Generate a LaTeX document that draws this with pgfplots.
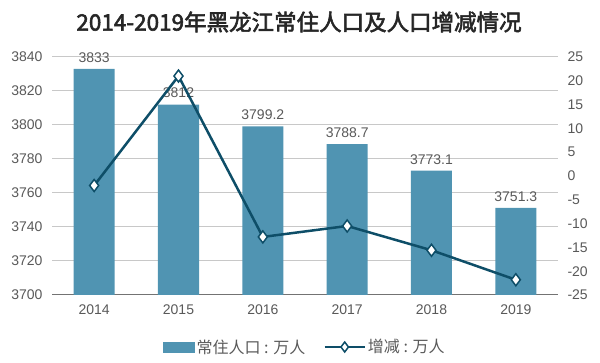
\documentclass[border=0pt]{standalone}
\usepackage{pgfplots}
\pgfplotsset{compat=1.18}
\usepackage{fontspec}
\setmainfont{Liberation Sans}
\newfontfamily\cjk{Noto Sans CJK SC}[AutoFakeBold=2.5]
\definecolor{barcol}{RGB}{80,148,178}
\definecolor{linecol}{RGB}{14,78,104}
\definecolor{txtcol}{RGB}{89,89,89}
\definecolor{gridcol}{RGB}{200,200,200}
\pgfplotsset{
  linelegend/.style={legend image code/.code={%
    \draw[##1] (0pt,0pt) -- (40pt,0pt);
    \draw[##1] plot[mark=diamond*, mark size=5pt] coordinates {(20pt,0pt)};}},
  barlegend/.style={legend image code/.code={%
    \fill[barcol] (0pt,-5pt) rectangle (31pt,5pt);}},
}
\begin{document}
\begin{tikzpicture}
\path[use as bounding box] (0,0) rectangle (600pt,363pt);
\node[font=\cjk\bfseries\fontsize{22.5}{26}\selectfont, text=black!85] at (299pt,341pt) {2014-2019年黑龙江常住人口及人口增减情况};
\begin{axis}[
  at={(52pt,68pt)}, anchor=south west,
  scale only axis, width=506pt, height=238pt,
  xmin=-0.5, xmax=5.5,
  ymin=3700, ymax=3840, ytick distance=20,
  xtick={0,1,2,3,4,5},
  xticklabels={2014,2015,2016,2017,2018,2019},
  axis y line*=left, axis x line*=bottom,
  y axis line style={draw=none},
  x axis line style={draw=black!55, line width=1pt},
  major tick length=0pt,
  ymajorgrids, grid style={gridcol, line width=1pt},
  tick label style={font=\fontsize{14}{16}\selectfont, text=txtcol},
  yticklabel style={xshift=-6pt},
  xticklabel style={yshift=-6pt},
  /pgf/number format/.cd, 1000 sep={}, assume math mode=true, /pgfplots/.cd,
  ybar, bar width=41pt,
  nodes near coords,
  every node near coord/.append style={font=\fontsize{14}{16}\selectfont, text=txtcol, yshift=3pt},
  clip=false,
]
\addplot[fill=barcol, draw=none] coordinates {
(0,3833) (1,3812) (2,3799.2) (3,3788.7) (4,3773.1) (5,3751.3)};
\end{axis}
\begin{axis}[
  at={(52pt,68pt)}, anchor=south west,
  scale only axis, width=506pt, height=238pt,
  xmin=-0.5, xmax=5.5,
  ymin=-25, ymax=25, ytick distance=5,
  axis y line*=right, axis x line=none,
  y axis line style={draw=none},
  major tick length=0pt,
  tick label style={font=\fontsize{14}{16}\selectfont, text=txtcol},
  yticklabel style={xshift=6pt},
  /pgf/number format/.cd, assume math mode=true, /pgfplots/.cd,
  legend style={at={(0.5,-0.2185)}, anchor=center, draw=none, fill=none,
    font=\cjk\fontsize{16}{18}\selectfont, text=txtcol, legend columns=2,
    /tikz/every even column/.append style={column sep=16pt}},
  legend cell align=left,
  clip=false,
]
\addlegendimage{barlegend}
\addlegendentry{常住人口 : 万人}
\addplot[linecol, line width=2.5pt, mark=diamond*, mark size=6pt,
  mark options={fill=white, draw=linecol, line width=1.5pt}, linelegend]
coordinates {(0,-2) (1,21) (2,-12.8) (3,-10.5) (4,-15.6) (5,-21.8)};
\addlegendentry{增减 : 万人}
\end{axis}
\end{tikzpicture}
\end{document}
